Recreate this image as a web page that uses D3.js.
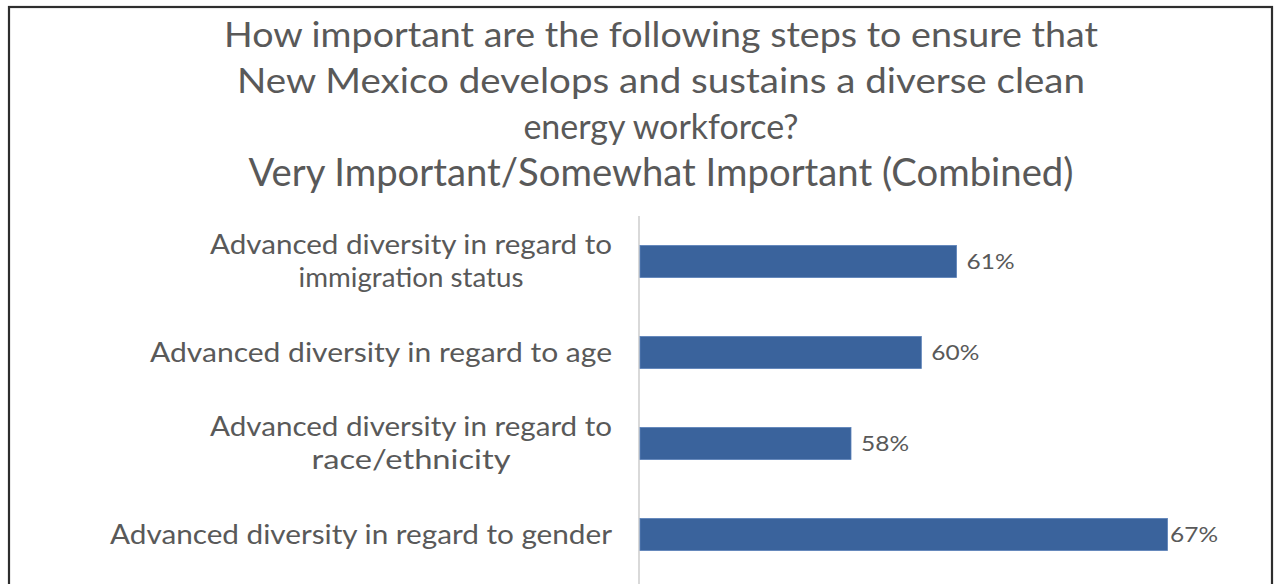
<!DOCTYPE html>
<html>
<head>
<meta charset="utf-8">
<script src="https://cdn.jsdelivr.net/npm/d3@7"></script>
<style>
  html, body { margin: 0; padding: 0; background: #ffffff; }
  svg { display: block; }
  text { font-family: Lato, "Open Sans", sans-serif; fill: #595959; }
</style>
</head>
<body>
<svg id="chart" width="1277" height="584"></svg>
<script>
// Survey question and combined share answering very / somewhat important
const titleLines = [
  "How important are the following steps to ensure that",
  "New Mexico develops and sustains a diverse clean",
  "energy workforce?",
  "Very Important/Somewhat Important (Combined)"
];
const categories = [
  "Advanced diversity in regard to immigration status",
  "Advanced diversity in regard to age",
  "Advanced diversity in regard to race/ethnicity",
  "Advanced diversity in regard to gender"
];
const categoryLines = [
  ["Advanced diversity in regard to", "immigration status"],
  ["Advanced diversity in regard to age"],
  ["Advanced diversity in regard to", "race/ethnicity"],
  ["Advanced diversity in regard to gender"]
];
const values = [0.61, 0.60, 0.58, 0.67];
const valueLabels = ["61%", "60%", "58%", "67%"];
const xDomain = [0.52, 0.70];

const svg = d3.select("#chart");

// outer frame
svg.append("rect")
  .attr("x", 9).attr("y", 7)
  .attr("width", 1263).attr("height", 600)
  .attr("fill", "none")
  .attr("stroke", "#2e2e2e")
  .attr("stroke-width", 2.2);

// title (null width = natural text length)
const titleSpecs = [
  { y: 47, size: 34, width: 874 },
  { y: 93, size: 34, width: 848 },
  { y: 139, size: 34, width: null },
  { y: 186, size: 38, width: 825 }
];
svg.append("g").selectAll("text")
  .data(titleLines)
  .join("text")
  .attr("x", 661)
  .attr("y", (d, i) => titleSpecs[i].y)
  .attr("text-anchor", "middle")
  .style("font-size", (d, i) => titleSpecs[i].size + "px")
  .attr("textLength", (d, i) => titleSpecs[i].width)
  .attr("lengthAdjust", (d, i) => titleSpecs[i].width ? "spacingAndGlyphs" : null)
  .text(d => d);

// scales
const plotLeft = 640, plotRight = 1273, labelLimit = 1218;
const x = d3.scaleLinear().domain(xDomain).range([plotLeft, plotRight]);
const y = d3.scaleBand()
  .domain(categories)
  .range([216, 580])
  .paddingInner(0.648)
  .paddingOuter(0.324);

// category axis
const yAxis = svg.append("g")
  .attr("transform", `translate(${plotLeft - 1},0)`)
  .call(d3.axisLeft(y).tickSize(0).tickFormat(""));
yAxis.select(".domain").remove();

svg.append("line")
  .attr("x1", plotLeft - 1).attr("x2", plotLeft - 1)
  .attr("y1", 216).attr("y2", 584)
  .attr("stroke", "#d9d9d9")
  .attr("stroke-width", 2);

// multi-line category labels, right-aligned block with centered lines
const labelRight = 612, lineGap = 33;
const lineWidths = { "Advanced diversity in regard to": 402, "immigration status": 225,
  "Advanced diversity in regard to age": 462, "race/ethnicity": 199,
  "Advanced diversity in regard to gender": 502 };
yAxis.selectAll(".tick").each(function (d, i) {
  const lines = categoryLines[i];
  const blockW = d3.max(lines, l => lineWidths[l]);
  const cx = labelRight - blockW / 2 - (plotLeft - 1);
  const g = d3.select(this);
  g.select("text").remove();
  lines.forEach((l, j) => {
    g.append("text")
      .attr("x", cx)
      .attr("y", (j - (lines.length - 1) / 2) * lineGap)
      .attr("dy", "0.35em")
      .attr("text-anchor", "middle")
      .style("font-size", "26px")
      .attr("textLength", lineWidths[l])
      .attr("lengthAdjust", "spacingAndGlyphs")
      .text(l);
  });
});

// bars
svg.append("g").selectAll("rect")
  .data(values)
  .join("rect")
  .attr("x", plotLeft)
  .attr("y", (d, i) => y(categories[i]))
  .attr("width", d => x(d) - plotLeft)
  .attr("height", y.bandwidth())
  .attr("fill", "#3a639c")
  .attr("stroke", "#5a80b8")
  .attr("stroke-width", 0.8);

// value labels
const valueW = 48;
svg.append("g").selectAll("text")
  .data(values)
  .join("text")
  .attr("x", d => Math.min(x(d) + 10, labelLimit - valueW))
  .attr("y", (d, i) => y(categories[i]) + y.bandwidth() / 2)
  .attr("dy", "0.35em")
  .style("font-size", "22px")
  .attr("textLength", valueW)
  .attr("lengthAdjust", "spacingAndGlyphs")
  .text((d, i) => valueLabels[i]);
</script>
</body>
</html>
